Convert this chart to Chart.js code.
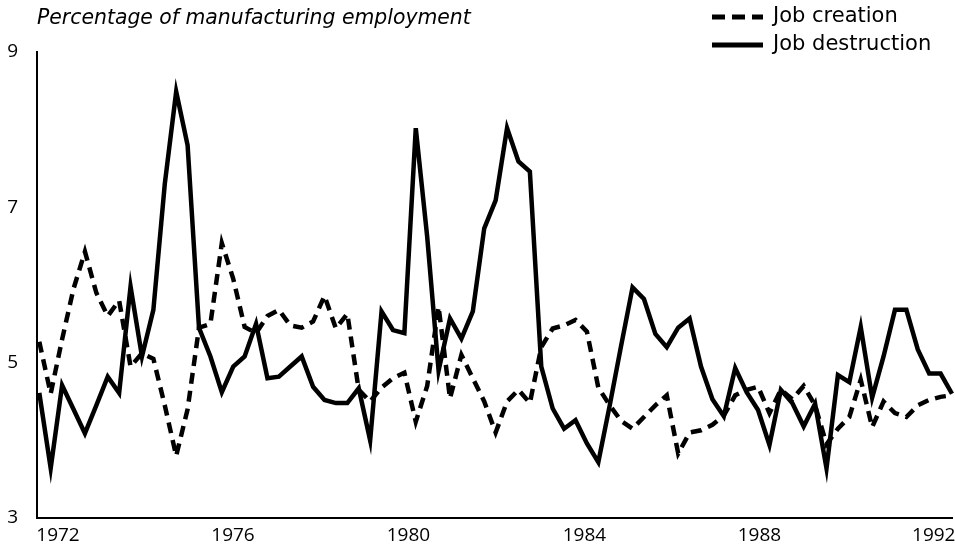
<!DOCTYPE html>
<html><head><meta charset="utf-8">
<script src="https://cdn.jsdelivr.net/npm/chart.js@4.4.0/dist/chart.umd.min.js"></script>
<style>html,body{margin:0;padding:0;background:#fff;} #wrap{width:955px;height:551px;position:relative;}</style>
</head><body><div id="wrap"><canvas id="c" width="955" height="551"></canvas></div>
<script>
// Quarterly observations, in order (index 0 = first quarter shown)
const jobCreation = [5.27, 4.60, 5.30, 5.95, 6.43, 5.90, 5.60, 5.80, 4.95, 5.12,
 5.05, 4.45, 3.80, 4.40, 5.45, 5.50, 6.54, 6.08, 5.46, 5.38,
 5.60, 5.68, 5.48, 5.45, 5.53, 5.86, 5.44, 5.63, 4.65, 4.50,
 4.68, 4.80, 4.87, 4.24, 4.70, 5.72, 4.54, 5.10, 4.80, 4.50,
 4.10, 4.50, 4.65, 4.48, 5.20, 5.44, 5.48, 5.55, 5.40, 4.68,
 4.45, 4.25, 4.15, 4.30, 4.45, 4.58, 3.83, 4.10, 4.13, 4.20,
 4.32, 4.58, 4.65, 4.69, 4.35, 4.65, 4.53, 4.70, 4.45, 3.95,
 4.15, 4.30, 4.78, 4.17, 4.50, 4.35, 4.30, 4.45, 4.52, 4.56,
 4.58];
const jobDestruction = [4.61, 3.64, 4.71, 4.40, 4.09, 4.45, 4.82, 4.61, 5.98, 5.08,
 5.68, 7.30, 8.49, 7.80, 5.45, 5.08, 4.62, 4.95, 5.08, 5.50,
 4.80, 4.82, 4.95, 5.08, 4.69, 4.52, 4.48, 4.48, 4.67, 4.00,
 5.66, 5.42, 5.38, 8.02, 6.62, 4.90, 5.57, 5.31, 5.66, 6.73,
 7.09, 8.02, 7.59, 7.46, 4.95, 4.41, 4.15, 4.26, 3.96, 3.72,
 4.45, 5.22, 5.97, 5.82, 5.37, 5.20, 5.45, 5.57, 4.95, 4.53,
 4.31, 4.93, 4.62, 4.39, 3.94, 4.65, 4.48, 4.18, 4.47, 3.64,
 4.84, 4.75, 5.46, 4.55, 5.08, 5.68, 5.68, 5.17, 4.86, 4.86,
 4.60];
const yearLabels = ['1972', '1976', '1980', '1984', '1988', '1992'];
const yearTickPos = [1.64, 16.98, 32.36, 47.78, 63.12, 78.4]; // in quarter-index units
const yTickValues = [3, 5, 7, 9];
const titleText = 'Percentage of manufacturing employment';
const seriesNames = ['Job creation', 'Job destruction'];

const FONT = '"Open Sans", "DejaVu Sans", sans-serif';
const TEXT_FONT = '"DejaVu Sans", sans-serif';

const toPoints = arr => arr.map((v, i) => ({x: i, y: v}));

const overlay = {
  id: 'overlay',
  afterDraw(chart) {
    const ctx = chart.ctx;
    ctx.save();
    ctx.fillStyle = '#000';
    ctx.textBaseline = 'middle';
    ctx.font = 'italic 20.4px ' + TEXT_FONT;
    ctx.fillText(titleText, 37, 19);
    const ds = chart.data.datasets;
    const rows = [17, 45];
    ds.forEach((d, k) => {
      const y = rows[k];
      ctx.save();
      ctx.strokeStyle = '#000';
      ctx.lineWidth = 5;
      ctx.setLineDash(d.borderDash && d.borderDash.length ? [13, 7] : []);
      ctx.beginPath();
      ctx.moveTo(712, y);
      ctx.lineTo(763, y);
      ctx.stroke();
      ctx.restore();
      ctx.font = '21px ' + TEXT_FONT;
      ctx.fillText(d.label, 773, y);
    });
    ctx.restore();
  }
};

new Chart(document.getElementById('c'), {
  type: 'line',
  data: {
    datasets: [
      {label: seriesNames[0], data: toPoints(jobCreation), borderColor: '#000', borderWidth: 4.5,
       borderDash: [11, 7], pointRadius: 0, tension: 0, fill: false, clip: false, borderJoinStyle: 'miter'},
      {label: seriesNames[1], data: toPoints(jobDestruction), borderColor: '#000', borderWidth: 4.5,
       pointRadius: 0, tension: 0, fill: false, clip: false, borderJoinStyle: 'miter'}
    ]
  },
  options: {
    responsive: false,
    animation: false,
    devicePixelRatio: 1,
    layout: {autoPadding: false, padding: {left: 0, top: 52, right: 3, bottom: 0}},
    plugins: {legend: {display: false}, tooltip: {enabled: false}, title: {display: false}},
    scales: {
      x: {
        type: 'linear', min: -0.2, max: jobDestruction.length - 1,
        grid: {display: false, drawTicks: false},
        border: {display: true, color: '#000', width: 2},
        afterBuildTicks: s => { s.ticks = yearTickPos.map(v => ({value: v})); },
        afterFit: s => { s.height = 33; s.paddingLeft = 0; s.paddingRight = 0; },
        ticks: {autoSkip: false, maxRotation: 0, color: '#000', padding: 6,
          font: {family: FONT, size: 19},
          callback: (v, i) => yearLabels[i]}
      },
      y: {
        min: 3, max: 9,
        grid: {display: false, drawTicks: false},
        border: {display: true, color: '#000', width: 2},
        afterBuildTicks: s => { s.ticks = yTickValues.map(v => ({value: v})); },
        afterFit: s => { s.width = 37; s.paddingTop = 0; s.paddingBottom = 0; },
        ticks: {color: '#000', padding: 19, font: {family: FONT, size: 19}}
      }
    }
  },
  plugins: [overlay]
});
</script></body></html>
